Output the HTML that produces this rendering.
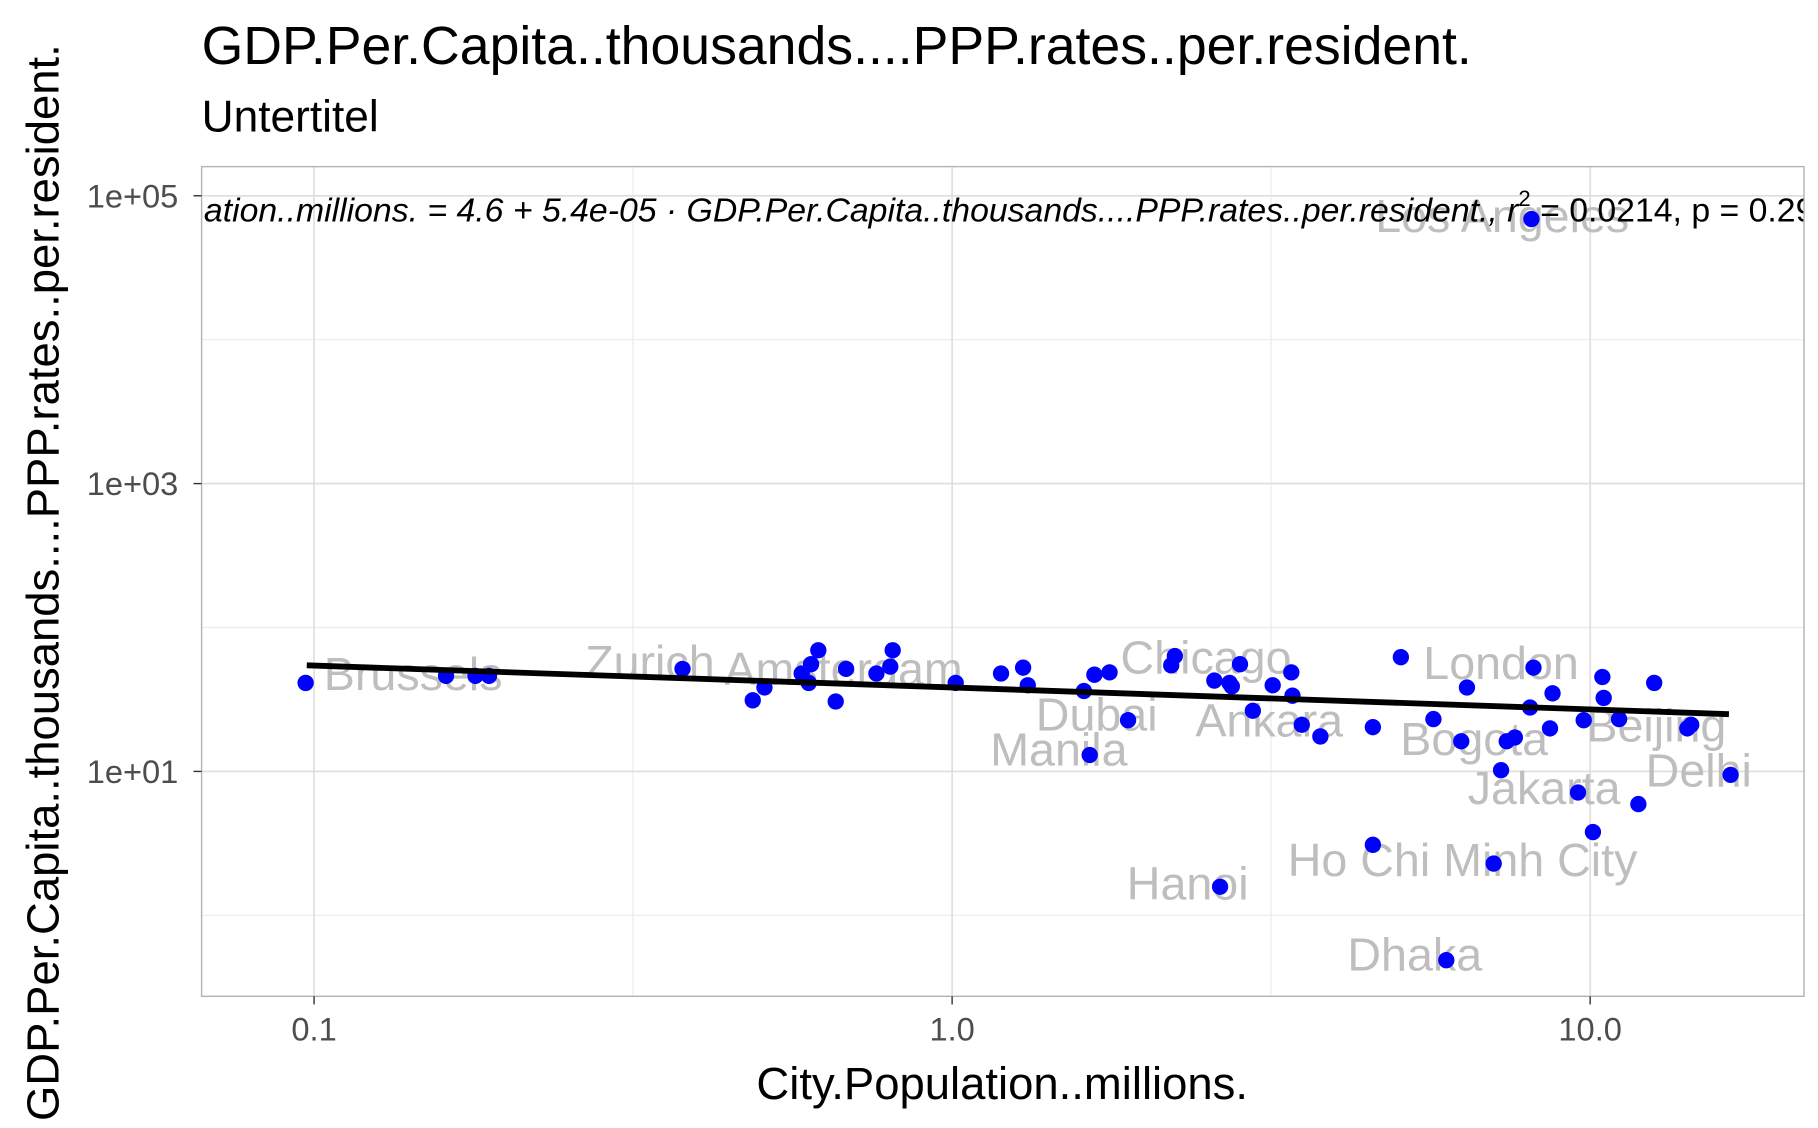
<!DOCTYPE html>
<html><head><meta charset="utf-8"><style>
html,body{margin:0;padding:0;background:#fff;}
svg{display:block;font-family:"Liberation Sans",sans-serif;}
</style></head><body>
<svg id="chart" width="1818" height="1128" viewBox="0 0 1560 968" preserveAspectRatio="none" xmlns="http://www.w3.org/2000/svg">
<defs><clipPath id="pc"><rect x="173" y="143" width="1375" height="712"/></clipPath></defs>
<rect x="0" y="0" width="1560" height="968" fill="#fff"/>
<text x="173" y="55" font-size="46" fill="#000">GDP.Per.Capita..thousands....PPP.rates..per.resident.</text>
<text x="173" y="113" font-size="38" fill="#000">Untertitel</text>
<g id="grid"></g>
<g id="labels" clip-path="url(#pc)"></g>
<g id="points" clip-path="url(#pc)"></g>
<g id="fit" clip-path="url(#pc)"></g>
<text x="175" y="190" font-size="29" font-style="italic" fill="#000" clip-path="url(#pc)">ation..millions. = 4.6 + 5.4e-05 · GDP.Per.Capita..thousands....PPP.rates..per.resident.,  r<tspan font-style="normal" font-size="19" dy="-13">2</tspan><tspan font-style="normal" dy="13"> = 0.0214,  p = 0.29</tspan></text>
<rect x="173" y="143" width="1375" height="712" fill="none" stroke="#b3b3b3" stroke-width="1.2"/>
<g id="axes"></g>
<text x="860" y="943" font-size="39" text-anchor="middle" fill="#000">City.Population..millions.</text>
<text transform="translate(50,500) rotate(-90)" font-size="39" text-anchor="middle" fill="#000">GDP.Per.Capita..thousands....PPP.rates..per.resident.</text>
</svg>
<script>
const popX = [0.097,0.161,0.179,0.188,0.378,0.487,0.508,0.581,0.596,0.601,0.617,0.657,0.682,0.761,0.800,0.807,1.013,1.193,1.292,1.314,1.609,1.643,1.671,1.765,1.887,2.205,2.234,2.576,2.721,2.744,2.826,2.960,3.180,3.401,3.415,3.532,3.777,4.565,4.565,5.05,5.68,5.95,6.28,6.41,7.06,7.25,7.40,7.62,8.05,8.09,8.15,8.65,8.73,9.57,9.77,10.1,10.45,10.5,11.1,11.9,12.6,14.2,14.4,16.6,2.63];
const gdpY = [41.2,46.1,46.1,46.1,51.6,31.2,38.3,47.9,41.2,55.6,69.5,30.6,51.6,47.9,53.5,69.5,41.2,47.9,52.6,39.7,36.2,13.0,47.0,48.8,22.7,54.6,63.4,42.8,41.2,39.0,55.6,26.4,39.7,48.8,33.6,21.1,17.5,20.3,3.09,62.2,23.1,0.488,16.2,38.3,2.29,10.2,16.2,17.2,27.8,68900,52.6,19.9,34.9,7.14,22.7,3.79,45.3,32.4,23.1,5.93,41.2,19.9,21.1,9.46,1.58];
const labelNames = ["Brussels","Zurich","Amsterdam","Chicago","Dubai","Manila","Ankara","Los Angeles","London","Bogota","Beijing","Jakarta","Delhi","Ho Chi Minh City","Hanoi","Dhaka"];
const labelX = [0.143,0.336,0.676,2.50,1.685,1.47,3.14,7.28,7.25,6.58,12.7,8.47,14.8,6.31,2.34,5.31];
const labelY = [36.9,44.5,39.7,47.9,19.2,11.0,17.5,56100,43.7,13.0,16.2,5.93,7.85,1.87,1.29,0.412];
const fitX = [0.0974,16.5];
const fitY = [54.6,25.0];
const xTicks = [0.1,1,10];
const xTickLabels = ["0.1","1.0","10.0"];
const xMinor = [0.316,3.16];
const yTicks = [1e5,1e3,1e1];
const yTickLabels = ["1e+05","1e+03","1e+01"];
const yMinor = [1e4,1e2,1];

const NS="http://www.w3.org/2000/svg";
function sx(v){return 817+547.5*Math.log10(v);}
function sy(v){return 662-123.5*(Math.log10(v)-1);}
function mk(tag,attrs,parent){const e=document.createElementNS(NS,tag);for(const k in attrs)e.setAttribute(k,attrs[k]);parent.appendChild(e);return e;}
const grid=document.getElementById('grid'),axes=document.getElementById('axes');
xMinor.forEach(v=>{const l=mk('line',{x1:sx(v),x2:sx(v),y1:143,y2:855,stroke:'#ebebeb','stroke-width':1},grid);

});
yMinor.forEach(v=>{const l=mk('line',{x1:173,x2:1548,y1:sy(v),y2:sy(v),stroke:'#ebebeb','stroke-width':1},grid);

});
xTicks.forEach((v,i)=>{const l=mk('line',{x1:sx(v),x2:sx(v),y1:143,y2:855,stroke:'#dedede','stroke-width':1.4},grid);


const t=mk('line',{x1:sx(v),x2:sx(v),y1:855,y2:862,stroke:'#333','stroke-width':1.2},axes);


const tx=mk('text',{x:sx(v),y:893,'font-size':28,'text-anchor':'middle',fill:'#4d4d4d'},axes);tx.textContent=xTickLabels[i];

});
yTicks.forEach((v,i)=>{const l=mk('line',{x1:173,x2:1548,y1:sy(v),y2:sy(v),stroke:'#dedede','stroke-width':1.4},grid);


const t=mk('line',{x1:166,x2:173,y1:sy(v),y2:sy(v),stroke:'#333','stroke-width':1.2},axes);


const tx=mk('text',{x:153,y:sy(v)+10,'font-size':28,'text-anchor':'end',fill:'#4d4d4d'},axes);tx.textContent=yTickLabels[i];

});
const lg=document.getElementById('labels');
labelNames.forEach((n,i)=>{const t=mk('text',{x:sx(labelX[i]),y:sy(labelY[i]),'font-size':40,'text-anchor':'middle',fill:'#bebebe'},lg);t.textContent=n;

});
const pg=document.getElementById('points');
popX.forEach((x,i)=>{const c=mk('circle',{cx:sx(x),cy:sy(gdpY[i]),r:7,fill:'#0000ff'},pg);

});
const fl=mk('line',{x1:sx(fitX[0]),y1:sy(fitY[0]),x2:sx(fitX[1]),y2:sy(fitY[1]),stroke:'#000','stroke-width':5},document.getElementById('fit'));


</script>
</body></html>
